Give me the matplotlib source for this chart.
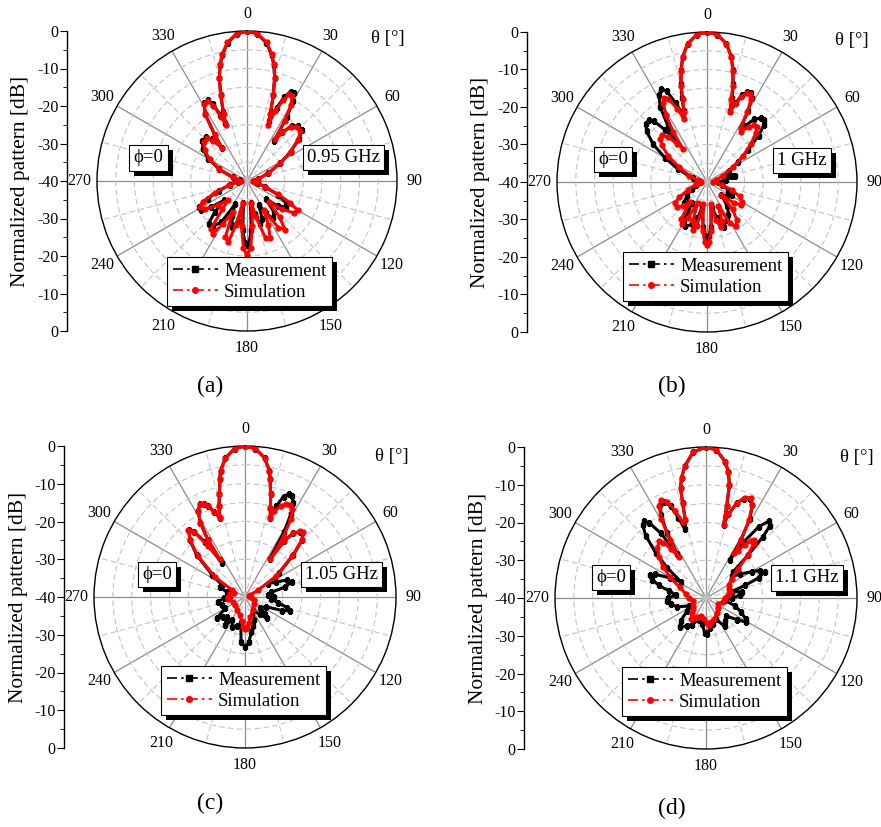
import numpy as np
import matplotlib
matplotlib.use("Agg")
import matplotlib.pyplot as plt
from matplotlib.lines import Line2D
from matplotlib.patches import Rectangle
from matplotlib.ticker import FixedLocator
from matplotlib.transforms import IdentityTransform

plt.rcParams['font.family'] = ['Liberation Serif', 'DejaVu Serif']

# ---------------- data: (theta [deg], normalized pattern [dB]) ----------------
a_meas = [(0, 0), (4, -0.7), (8, -2.8), (11, -5.7), (13, -8.2), (15, -11.5), (17, -16), (19, -20.5), (20.5, -23),
          (22, -19), (24, -15.5), (26, -13.5), (28, -13.4), (30, -15.5), (32, -20), (34, -27),
          (36, -24), (39, -21), (43, -20), (47, -20), (51, -22), (56, -26), (62, -30), (70, -34), (80, -37),
          (90, -38), (100, -37), (108, -35), (114, -31), (119, -28), (124, -27.5), (129, -29.5), (134, -33),
          (139, -29), (145, -27.8), (150, -30), (154, -33), (158, -29), (163, -28), (167, -31), (171, -34),
          (175, -27), (178, -23.5), (180, -22.9), (182, -23.5), (185, -27), (189, -34), (193, -29), (198, -27),
          (203, -30), (207, -33), (212, -27), (217, -25), (222, -24.7), (226, -28), (230, -32), (234, -28),
          (238, -25.5), (242, -25.5), (246, -28.5), (251, -32), (258, -35.5), (266, -37.5), (275, -38),
          (285, -36), (293, -32), (300, -28), (306, -25.5), (312, -24), (317, -24), (320, -25.5), (323, -29),
          (325, -25), (328, -19), (331, -16.3), (334, -16), (336, -17.5), (338, -21), (339.5, -23.5),
          (341, -20.5), (343, -16), (345, -11.5), (347, -8.2), (349, -5.7), (352, -2.8), (356, -0.7), (360, 0)]
a_sim = [(0, 0), (4, -0.6), (8, -2.6), (11, -5.5), (13, -8), (15, -11.5), (17, -16), (19, -21), (20.5, -24),
         (22, -20), (24, -16.5), (26, -14.3), (28, -14.2), (30, -16.5), (32, -21), (34, -26.5),
         (36, -24), (39, -21.5), (43, -20.3), (47, -20.5), (51, -22.5), (56, -26), (62, -30), (70, -34), (80, -37),
         (90, -38.5), (100, -37.5), (108, -35), (113, -31), (117, -27), (120, -24.3), (124, -24.8), (129, -28),
         (134, -32), (138, -27), (142, -23.5), (146, -25), (150, -31), (154, -27), (158, -23.5), (162, -24),
         (166, -30), (169, -34), (173, -28), (177, -22), (180, -20.2), (183, -22), (187, -28), (191, -34),
         (194, -28), (197, -23), (201, -24), (205, -31), (209, -27), (213, -23.2), (217, -24), (221, -30),
         (225, -33), (230, -30), (236, -26.5), (241, -25.7), (245, -27), (250, -31), (257, -35), (265, -37.5),
         (275, -38.5), (285, -36), (293, -32), (300, -28.5), (306, -26), (312, -24.5), (317, -24.4), (320, -26),
         (323, -29), (325, -25), (328, -19), (331, -16.5), (334, -16.3), (336, -18), (338, -21.5), (339.5, -24),
         (341, -21), (343, -16), (345, -11.5), (347, -8), (349, -5.5), (352, -2.6), (356, -0.6), (360, 0)]

b_meas = [(0, 0), (4, -0.6), (8, -2.8), (11, -6), (13, -9.3), (15, -13), (16.5, -16.5), (18, -20),
          (20, -17.5), (22, -15), (24, -13.8), (26, -13.5), (28, -14.5), (30, -18), (32, -23),
          (34, -22), (37, -19), (40, -17.8), (42.4, -17.6), (45, -18.5), (48, -21.5), (52, -26), (57, -30),
          (63, -33.5), (70, -34), (76, -33), (79, -32.3), (83, -35), (90, -37), (100, -36), (110, -34),
          (118, -32.5), (125, -33.5), (132, -35), (140, -31.5), (147, -29.5), (153, -28.5), (159.5, -27.3),
          (164, -30), (170, -33), (175, -28), (178, -25.5), (180, -24.5), (182, -25.5), (185, -28), (190, -33),
          (195, -30), (200, -28), (206, -26.8), (211, -29), (216, -33), (222, -32.5), (228, -31.6), (235, -33.5),
          (245, -35.5), (256, -37), (270, -38), (285, -36), (294, -31.5), (300, -27), (305, -22.5), (310, -19),
          (313.5, -17.5), (316.7, -17.3), (319, -18.5), (321, -22), (323, -26), (325, -22), (328, -16.5),
          (331, -13.5), (334, -12.3), (336, -13.5), (338.5, -17.5), (340.5, -21), (342, -20), (343.5, -16.5),
          (345, -13), (347, -9.3), (349, -6), (352, -2.8), (356, -0.6), (360, 0)]
b_sim = [(0, 0), (4, -0.6), (8, -2.8), (11, -6), (13, -9.5), (15, -13.5), (16.5, -17), (18, -20.5),
         (20, -18), (22, -15.5), (24, -14), (26, -13.8), (28, -15), (30, -18.5), (32, -23),
         (34, -24), (37, -21.5), (40, -20.3), (42, -20.2), (45, -21.5), (49, -24.5), (54, -28), (60, -32),
         (68, -35.5), (78, -37.5), (90, -38.5), (100, -36), (108, -33), (114, -30.5), (119, -29.2), (124, -29),
         (128, -31), (132, -35), (137, -30), (142, -27), (147, -26), (151, -27.5), (155, -33), (159, -29),
         (163, -27.5), (167, -29.5), (171, -34), (175, -27), (178, -24), (180, -23.2), (182, -24), (185, -27),
         (189, -34), (193, -28), (196, -26.8), (200, -29), (204, -34), (208, -29), (211, -27), (215, -28),
         (220, -33), (225, -31), (230, -29.5), (236, -29.8), (241, -31.5), (248, -34.5), (258, -37), (270, -38.5),
         (280, -37.5), (290, -35), (298, -31.5), (304, -27.5), (309, -24.5), (313, -23), (316, -22.7), (319, -24),
         (322, -27), (324, -29), (326, -24), (328.5, -19), (331, -16), (333, -14.9), (335, -15.5), (338, -19),
         (340, -22), (342, -20.5), (343.5, -17), (345, -13.5), (347, -9.5), (349, -6), (352, -2.8), (356, -0.6),
         (360, 0)]

c_meas = [(0, 0), (4, -0.6), (8, -2.8), (11, -6), (12, -8), (14, -12), (16, -15.5), (17.6, -18),
          (19, -14.5), (21, -11.5), (23, -10.3), (25, -10.5), (27, -12), (29, -15), (31, -20), (33, -28),
          (35, -22), (37, -18.8), (40, -17.5), (42, -17.3), (45, -18.5), (49, -23), (55, -29), (60, -33),
          (64, -31), (68, -28), (72, -27), (76, -29), (80, -33), (85, -34), (90, -32.4), (95, -33), (100, -31),
          (104, -28.5), (107, -27.5), (110, -29.5), (115, -34), (125, -35), (130, -33), (134.6, -31.9), (140, -34),
          (150, -36), (158, -33.5), (165, -32), (170, -30.5), (175, -28), (180, -26.8), (185, -28), (189, -33),
          (196, -32), (203, -31.5), (209, -33), (215.5, -30.8), (222, -33), (228, -32), (233, -30.6), (240, -34),
          (250, -33.5), (260, -32.8), (267, -34.5), (275, -36), (285, -35), (292, -33), (298, -33), (304, -29.5),
          (311, -23), (316, -19), (320, -16.8), (322, -18), (324, -22), (326, -29), (327, -22), (329, -17),
          (331.5, -14), (334, -12.7), (336, -13), (338, -14), (340, -16), (342.4, -18), (344, -15), (346, -12),
          (348, -8), (349, -6), (352, -2.8), (356, -0.6), (360, 0)]
c_sim = [(0, 0), (4, -0.6), (8, -2.8), (11, -6), (12, -8), (14, -12), (16, -15.5), (17.6, -18),
         (19, -16), (21.5, -14), (24, -13), (26, -12.8), (28, -13.5), (30.5, -16), (32.5, -21), (34, -28),
         (35, -22), (37, -18.8), (40, -17.3), (42, -17), (45, -18.5), (49, -23.5), (56, -30), (62, -36),
         (70, -38.5), (80, -39), (90, -38.5), (110, -37.5), (130, -37), (150, -36), (165, -34.5), (172, -33),
         (177, -31.8), (180, -31.6), (183, -32), (188, -33.5), (195, -35), (210, -36), (230, -36.5), (250, -36.5),
         (262, -35.5), (270, -35.5), (280, -36), (290, -37), (298, -36), (304, -30.3), (311, -23.6), (316, -19),
         (320, -16.7), (322, -18), (324, -23.4), (326, -28), (327, -22), (329, -17), (331.5, -14), (334, -12.7),
         (336, -13), (338, -14), (340, -16), (342.4, -18), (344, -15), (346, -12), (348, -8), (349, -6),
         (352, -2.8), (356, -0.6), (360, 0)]

d_meas = [(0, 0), (4, -0.7), (8, -3.5), (10, -6), (11.7, -9.4), (12.7, -15), (13.5, -20),
          (15, -17), (18, -13.5), (21, -11.8), (24, -11.3), (26.5, -12.5), (29, -16), (31, -22), (32, -28),
          (34, -22), (36.5, -16.5), (39.2, -13.7), (41.5, -14.5), (43, -18), (44.4, -24), (46, -30),
          (50, -31), (55, -29), (60, -26), (63, -24), (66, -23), (69, -25), (72, -29), (76, -33), (80.5, -30.3),
          (85, -31), (90, -33), (97, -35), (105, -32), (112, -30), (118, -28), (121, -27.6), (125, -30), (132, -33),
          (140, -32), (147, -31), (155, -34), (165, -33), (172, -32), (178, -30.5), (182, -30.7), (188, -33),
          (198, -34), (208, -32), (215, -31), (222, -29.6), (228, -31), (236, -34), (245, -35), (253, -32),
          (260, -30.5), (265, -29.6), (270, -30), (276, -32), (281, -30), (285, -27), (289, -25), (292, -24),
          (295, -25), (299, -29), (303, -32), (308, -27), (312, -22), (316, -17), (319, -14.5), (321, -13.8),
          (323, -15), (325, -19), (327, -26), (329, -20), (331.5, -15), (334, -12.5), (336.5, -12.2), (339, -14),
          (341, -17.5), (343, -21), (345.2, -18.5), (346.2, -14), (347, -10), (348.5, -7.5), (351, -4.5),
          (355, -1.2), (360, 0)]
d_sim = [(0, 0), (4, -0.7), (8, -3.5), (10, -6), (11.7, -9.4), (12.7, -15), (13.5, -20),
         (15, -17), (18, -13.5), (21, -11.5), (24, -11), (26.5, -12.5), (29, -16.5), (31, -22), (32.5, -26),
         (34, -25), (36, -22.5), (38, -20.8), (39.5, -20.2), (41.5, -21), (44, -24), (48, -28.5), (53, -31.5),
         (60, -33), (68, -33.5), (75, -33.5), (82, -34), (90, -35), (103, -35.5), (115, -36.5), (130, -36),
         (145, -35), (160, -34), (168, -33.5), (173, -32.8), (178, -33.5), (185, -34.5), (195, -35), (204, -34.6),
         (210, -34), (216, -33.2), (222, -34.5), (230, -35.5), (240, -36), (255, -36.5), (270, -35.5), (282, -34.5),
         (292, -32.5), (300, -29), (306, -26), (311, -23.5), (316, -21.5), (320.4, -20.5), (322.5, -21.5),
         (324.5, -24), (326.5, -27), (328, -22), (330.5, -16), (333, -12.5), (335.5, -11.5), (338, -12.5),
         (340.5, -15.5), (343, -19), (345.2, -18.5), (346.2, -14), (347, -10), (348.5, -7.5), (351, -4.5),
         (355, -1.2), (360, 0)]

theta_ticks = [0, 30, 60, 90, 120, 150, 180, 210, 240, 270, 300, 330]
theta_labels = ['0', '30', '60', '90', '120', '150', '180', '210', '240', '270', '300', '330']
scale_ticks = [-40, -30, -20, -10, 0, 10, 20, 30, 40]
scale_labels = ['0', '-10', '-20', '-30', '-40', '-30', '-20', '-10', '0']
freqs = ['0.95 GHz', '1 GHz', '1.05 GHz', '1.1 GHz']
tags = ['(a)', '(b)', '(c)', '(d)']
series_names = ['Measurement', 'Simulation']

# ---------------- layout (pixels) ----------------
W, H = 881, 827
fig = plt.figure(figsize=(W / 100, H / 100), dpi=100)

layout = [
    dict(cx=247, cy=181, R=150, axx=67, ylx=30, phi=(148.5, 158), fb=(343.5, 157.5), leg=(167, 257), th=(388, 38), tag=(210, 386)),
    dict(cx=707, cy=182, R=150, axx=527, ylx=490, phi=(613, 159.5), fb=(802, 160.5), leg=(623, 252), th=(852, 40), tag=(672, 386)),
    dict(cx=245, cy=597, R=151, axx=64, ylx=28, phi=(157, 574.5), fb=(341.5, 574.5), leg=(161, 666), th=(392, 457), tag=(210, 803)),
    dict(cx=706, cy=598, R=151, axx=524, ylx=488, phi=(611, 577.5), fb=(807, 578), leg=(622, 667), th=(857, 458), tag=(672, 808)),
]
datasets = [(a_meas, a_sim), (b_meas, b_sim), (c_meas, c_sim), (d_meas, d_sim)]

shadow_targets = []
for i, (L, (meas, sim)) in enumerate(zip(layout, datasets)):
    cx, cy, R = L['cx'], L['cy'], L['R']
    ax = fig.add_axes([(cx - R) / W, 1 - (cy + R) / H, 2 * R / W, 2 * R / H], projection='polar')
    ax.set_theta_zero_location('N')
    ax.set_theta_direction(-1)
    ax.set_ylim(-40, 0)
    ax.set_yticks(np.arange(-35, 0, 5))
    ax.set_yticklabels([])
    ax.set_xticks(np.deg2rad(theta_ticks))
    ax.set_xticklabels(theta_labels)
    ax.xaxis.set_minor_locator(FixedLocator(np.deg2rad(np.arange(15, 360, 30))))
    ax.grid(True, which='major', axis='x', color='#8c8c8c', lw=0.9, ls='-')
    ax.grid(True, which='minor', axis='x', color='#c4c4c4', lw=0.8, ls=(0, (5, 3)))
    ax.grid(True, which='major', axis='y', color='#c4c4c4', lw=0.8, ls=(0, (5, 3)))
    ax.tick_params(axis='x', which='major', pad=5.5, labelsize=11.5, length=0)
    ax.tick_params(axis='x', which='minor', length=0)
    ax.spines['polar'].set_color('black')
    ax.spines['polar'].set_linewidth(1.0)

    th_m = np.deg2rad([p[0] for p in meas]); r_m = [p[1] for p in meas]
    th_s = np.deg2rad([p[0] for p in sim]); r_s = [p[1] for p in sim]
    ax.plot(th_m, r_m, color='black', lw=2.2, marker='s', ms=3.5, zorder=3)
    ax.plot(th_s, r_s, color='red', lw=2.2, marker='o', ms=3.5, zorder=4)

    # left dB scale
    lax = fig.add_axes([L['axx'] / W, 1 - (cy + R) / H, 0.0001, 2 * R / H])
    lax.set_ylim(-40, 40)
    lax.set_yticks(scale_ticks)
    lax.set_yticklabels(scale_labels)
    lax.yaxis.set_minor_locator(FixedLocator(np.arange(-35, 40, 10)))
    for s in ['top', 'right', 'bottom']:
        lax.spines[s].set_visible(False)
    lax.spines['left'].set_linewidth(1.0)
    lax.set_xticks([])
    lax.patch.set_visible(False)
    lax.tick_params(axis='y', which='major', length=5, direction='out', labelsize=11.5, pad=1)
    lax.tick_params(axis='y', which='minor', length=3, direction='out')
    lax.set_ylabel('Normalized pattern [dB]', fontsize=15.5)
    lax.yaxis.set_label_coords(L['ylx'] / W, 1 - cy / H, transform=fig.transFigure)

    # annotation boxes
    bprops = dict(boxstyle='square,pad=0.22', fc='white', ec='black', lw=0.8)
    t1 = fig.text(L['phi'][0] / W, 1 - L['phi'][1] / H, '\u03d5=0', ha='center', va='center',
                  fontsize=13.5, bbox=bprops, zorder=10)
    t2 = fig.text(L['fb'][0] / W, 1 - L['fb'][1] / H, freqs[i], ha='center', va='center',
                  fontsize=13.5, bbox=bprops, zorder=10)
    fig.text(L['th'][0] / W, 1 - L['th'][1] / H, '\u03b8 [\u00b0]', ha='center', va='center', fontsize=13.5)
    fig.text(L['tag'][0] / W, 1 - L['tag'][1] / H, tags[i], ha='center', va='center', fontsize=17)

    handles = [Line2D([], [], color='black', lw=1.2, ls=(0, (6, 2.5, 1.5, 2.5)), marker='s', ms=4),
               Line2D([], [], color='red', lw=1.2, ls=(0, (6, 2.5, 1.5, 2.5)), marker='o', ms=4)]
    leg = fig.legend(handles=handles, labels=series_names, loc='upper left',
                     bbox_to_anchor=(L['leg'][0] / W, 1 - L['leg'][1] / H), frameon=True, fancybox=False,
                     edgecolor='black', framealpha=1, fontsize=13.5, handlelength=2.4, handletextpad=0.35,
                     labelspacing=0.2, borderpad=0.3, borderaxespad=0)
    leg.get_frame().set_linewidth(0.8)
    leg.set_zorder(6)
    shadow_targets += [('text', t1), ('text', t2), ('leg', leg)]

fig.canvas.draw()
for kind, art in shadow_targets:
    if kind == 'text':
        bb = art.get_bbox_patch().get_window_extent()
    else:
        bb = art.get_frame().get_window_extent()
    fig.add_artist(Rectangle((bb.x0 + 5, bb.y0 - 5), bb.width, bb.height, transform=IdentityTransform(),
                             facecolor='black', edgecolor='none', zorder=5))

fig.savefig('out.png', dpi=100)
